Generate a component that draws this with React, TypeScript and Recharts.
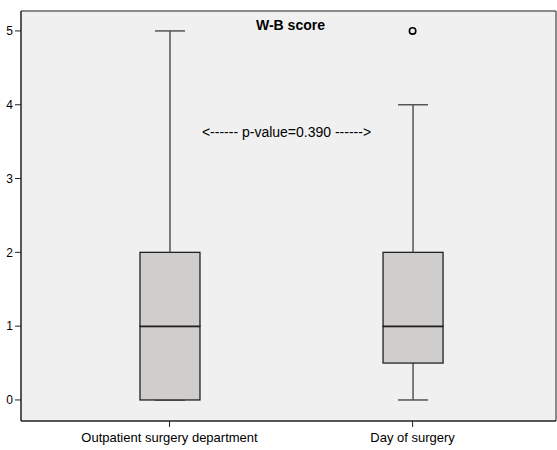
import { ComposedChart, XAxis, YAxis, CartesianGrid, ReferenceArea, Bar, Scatter, ReferenceLine } from 'recharts';

// box plot summaries
const groups = ['Outpatient surgery department', 'Day of surgery'];
const mins = [0, 0];
const q1s = [0, 0.5];
const medians = [1, 1];
const q3s = [2, 2];
const maxs = [5, 4];
const outliers = [null, 5];
const yTicks = [0, 1, 2, 3, 4, 5];
const yDomain = [-0.285, 5.27];
const xTicks = [0, 1];
const xDomain = [-0.611, 1.59];

const title = 'W-B score';
const note = '<------ p-value=0.390 ------>';

const rows = groups.map((name, i) => ({
  name,
  pos: i,
  base: mins[i],
  lowWhisker: q1s[i] - mins[i],
  boxLow: medians[i] - q1s[i],
  boxHigh: q3s[i] - medians[i],
  highWhisker: maxs[i] - q3s[i],
  outlier: outliers[i],
}));

const FONT = 'Arial, "Liberation Sans", sans-serif';
const BOX_FILL = '#cfcecc';
const WHISKER = '#555555';
const PLOT_BG = '#f0f0f0';

function Empty() {
  return <g />;
}

function LowWhisker(props: any) {
  const { x, y, width, height } = props;
  const cx = x + width / 2;
  const bottom = y + height;
  return (
    <g>
      <line x1={cx} x2={cx} y1={y} y2={bottom} stroke={WHISKER} strokeWidth={1.5} />
      <line x1={cx - width / 4} x2={cx + width / 4} y1={bottom} y2={bottom} stroke={WHISKER} strokeWidth={1.5} />
    </g>
  );
}

function HighWhisker(props: any) {
  const { x, y, width, height } = props;
  const cx = x + width / 2;
  return (
    <g>
      <line x1={cx} x2={cx} y1={y} y2={y + height} stroke={WHISKER} strokeWidth={1.5} />
      <line x1={cx - width / 4} x2={cx + width / 4} y1={y} y2={y} stroke={WHISKER} strokeWidth={1.5} />
    </g>
  );
}

function BoxLow(props: any) {
  const { x, y, width, height } = props;
  return (
    <g>
      <rect x={x} y={y} width={width} height={height} fill={BOX_FILL} stroke="#222" strokeWidth={1.3} />
      <line x1={x} x2={x + width} y1={y} y2={y} stroke="#000" strokeWidth={2} />
    </g>
  );
}

function BoxHigh(props: any) {
  const { x, y, width, height } = props;
  return <rect x={x} y={y} width={width} height={height} fill={BOX_FILL} stroke="#222" strokeWidth={1.3} />;
}

function OutlierDot(props: any) {
  const { cx, cy, payload } = props;
  if (payload == null || payload.outlier == null) return <g />;
  return <circle cx={cx} cy={cy} r={3.2} fill={PLOT_BG} stroke="#000" strokeWidth={1.6} />;
}

export default function App() {
  return (
    <div style={{ position: 'absolute', left: 0, top: 0 }}>
      <ComposedChart
        width={557}
        height={450}
        data={rows}
        margin={{ top: 11, right: 1, bottom: 0, left: 0 }}
        style={{ fontFamily: FONT }}
      >
        <CartesianGrid horizontal={false} vertical={false} fill={PLOT_BG} fillOpacity={1} />
        <ReferenceArea
          x1={xDomain[0]}
          x2={xDomain[1]}
          y1={yDomain[0]}
          y2={yDomain[1]}
          fill={PLOT_BG}
          fillOpacity={1}
          stroke="none"
          ifOverflow="visible"
        />
        <XAxis
          dataKey="pos"
          type="number"
          domain={xDomain}
          ticks={xTicks}
          interval={0}
          allowDataOverflow
          tickFormatter={(v: number) => groups[v] ?? ''}
          height={29}
          axisLine={{ stroke: '#222', strokeWidth: 1.5 }}
          tickLine={{ stroke: '#222' }}
          tickSize={6}
          tickMargin={6}
          tick={{ fill: '#000', fontSize: 13, fontFamily: FONT }}
        />
        <YAxis
          type="number"
          width={21}
          domain={yDomain}
          ticks={yTicks}
          allowDataOverflow
          axisLine={{ stroke: '#222', strokeWidth: 1.5 }}
          tickLine={{ stroke: '#222' }}
          tickSize={6}
          tickMargin={2}
          tick={{ fill: '#000', fontSize: 12, fontFamily: FONT }}
        />
        {/* frame: top and right borders of the plot area */}
        <ReferenceLine y={yDomain[1]} stroke="#666" strokeWidth={1.5} ifOverflow="visible" />
        <ReferenceLine x={xDomain[1]} stroke="#666" strokeWidth={1.5} ifOverflow="visible" />
        <Bar dataKey="base" stackId="box" barSize={60} shape={<Empty />} isAnimationActive={false} />
        <Bar dataKey="lowWhisker" stackId="box" barSize={60} shape={<LowWhisker />} isAnimationActive={false} />
        <Bar dataKey="boxLow" stackId="box" barSize={60} shape={<BoxLow />} isAnimationActive={false} />
        <Bar dataKey="boxHigh" stackId="box" barSize={60} shape={<BoxHigh />} isAnimationActive={false} />
        <Bar dataKey="highWhisker" stackId="box" barSize={60} shape={<HighWhisker />} isAnimationActive={false} />
        <Scatter dataKey="outlier" shape={<OutlierDot />} isAnimationActive={false} />
        <ReferenceLine
          y={5.08}
          stroke="none"
          label={{ value: title, position: 'center', fill: '#000', fontSize: 14, fontWeight: 'bold', fontFamily: FONT, dx: 2 }}
        />
        <ReferenceLine
          y={3.63}
          stroke="none"
          label={{ value: note, position: 'center', fill: '#000', fontSize: 14, fontFamily: FONT, dx: -2 }}
        />
      </ComposedChart>
    </div>
  );
}
